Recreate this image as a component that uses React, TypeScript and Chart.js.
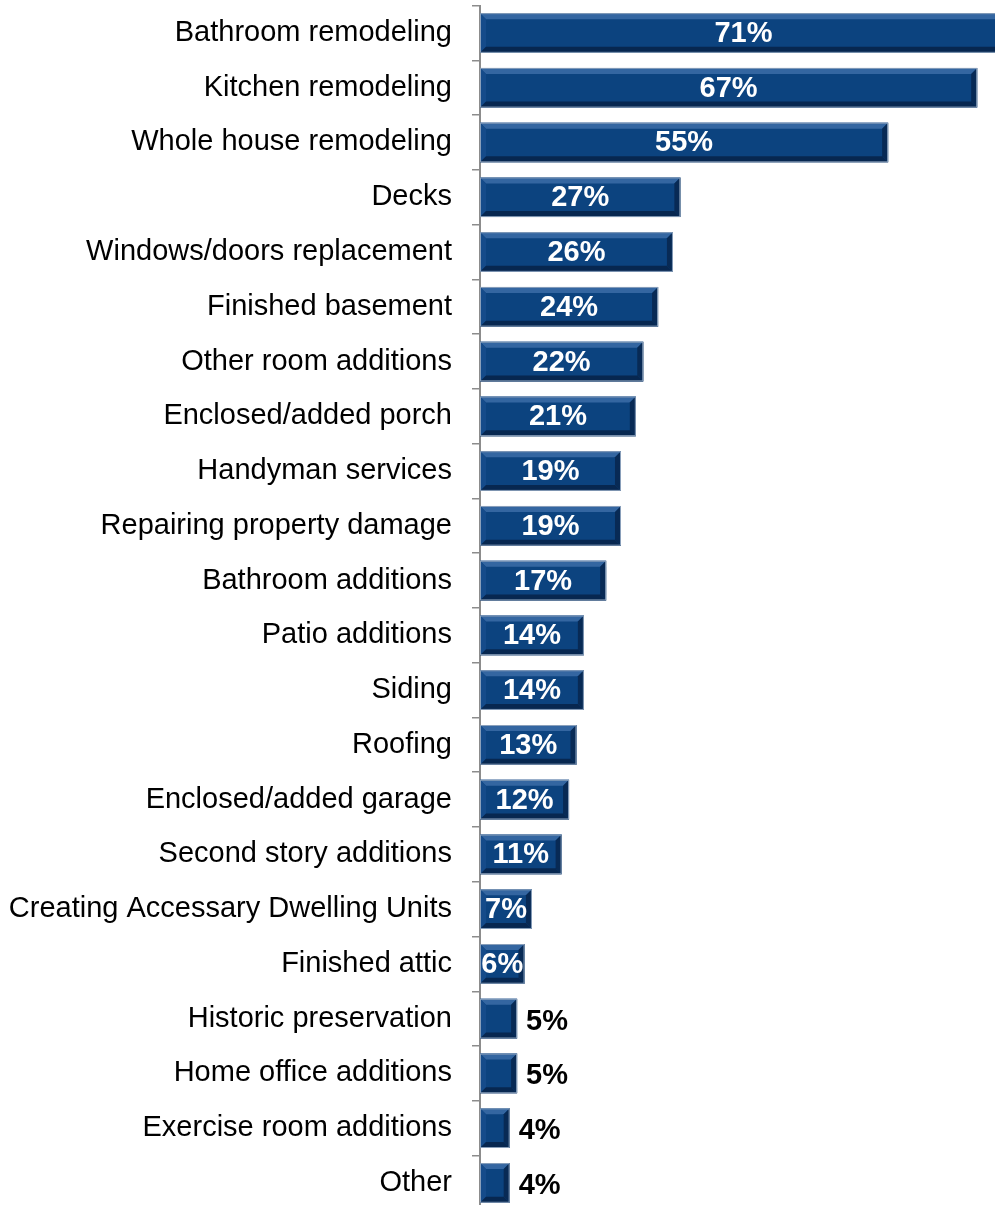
import React, { useEffect, useRef } from "react";
import { Chart, registerables } from "chart.js";

Chart.register(...registerables);

const categories: string[] = [
  "Bathroom remodeling",
  "Kitchen remodeling",
  "Whole house remodeling",
  "Decks",
  "Windows/doors replacement",
  "Finished basement",
  "Other room additions",
  "Enclosed/added porch",
  "Handyman services",
  "Repairing property damage",
  "Bathroom additions",
  "Patio additions",
  "Siding",
  "Roofing",
  "Enclosed/added garage",
  "Second story additions",
  "Creating Accessary Dwelling Units",
  "Finished attic",
  "Historic preservation",
  "Home office additions",
  "Exercise room additions",
  "Other",
];

const shares: number[] = [71, 67, 55, 27, 26, 24, 22, 21, 19, 19, 17, 14, 14, 13, 12, 11, 7, 6, 5, 5, 4, 4];

const FONT = "'Liberation Sans', Arial, Helvetica, sans-serif";

const bevelPlugin = {
  id: "bevelBars",
  afterDatasetsDraw(chart: any) {
    const ctx = chart.ctx;
    const meta = chart.getDatasetMeta(0);
    ctx.save();
    meta.data.forEach((bar: any) => {
      const { x, y, base, height } = bar.getProps(["x", "y", "base", "height"], true);
      const left = Math.min(base, x);
      const right = Math.max(base, x);
      const top = y - height / 2;
      const bottom = y + height / 2;
      const b = 6;
      ctx.fillStyle = "#3466a1";
      ctx.beginPath();
      ctx.moveTo(left, top);
      ctx.lineTo(right, top);
      ctx.lineTo(right - b, top + b);
      ctx.lineTo(left + b, top + b);
      ctx.closePath();
      ctx.fill();
      ctx.fillStyle = "#154b8a";
      ctx.beginPath();
      ctx.moveTo(left, top);
      ctx.lineTo(left + b, top + b);
      ctx.lineTo(left + b, bottom - b);
      ctx.lineTo(left, bottom);
      ctx.closePath();
      ctx.fill();
      ctx.fillStyle = "#082a55";
      ctx.beginPath();
      ctx.moveTo(right, top);
      ctx.lineTo(right, bottom);
      ctx.lineTo(right - b, bottom - b);
      ctx.lineTo(right - b, top + b);
      ctx.closePath();
      ctx.fill();
      ctx.fillStyle = "#072750";
      ctx.beginPath();
      ctx.moveTo(left, bottom);
      ctx.lineTo(right, bottom);
      ctx.lineTo(right - b, bottom - b);
      ctx.lineTo(left + b, bottom - b);
      ctx.closePath();
      ctx.fill();
      ctx.strokeStyle = "#8aa0bb";
      ctx.lineWidth = 1;
      ctx.strokeRect(left + 0.5, top + 0.5, right - left - 1, bottom - top - 1);
    });
    ctx.restore();
  },
};

const labelPlugin = {
  id: "valueLabels",
  afterDatasetsDraw(chart: any) {
    const ctx = chart.ctx;
    const meta = chart.getDatasetMeta(0);
    const data = chart.data.datasets[0].data as number[];
    ctx.save();
    ctx.font = `bold 29px ${FONT}`;
    ctx.textBaseline = "middle";
    meta.data.forEach((bar: any, i: number) => {
      const { x, y, base } = bar.getProps(["x", "y", "base"], true);
      const v = data[i];
      const text = `${v}%`;
      if (v >= 6) {
        ctx.fillStyle = "#ffffff";
        ctx.textAlign = "center";
        ctx.fillText(text, (x + base) / 2, y + 1);
      } else {
        ctx.fillStyle = "#000000";
        ctx.textAlign = "left";
        ctx.fillText(text, x + 9, y + 3);
      }
    });
    ctx.restore();
  },
};

export default function App() {
  const canvasRef = useRef<HTMLCanvasElement | null>(null);

  useEffect(() => {
    const canvas = canvasRef.current;
    if (!canvas) return;
    const chart = new Chart(canvas, {
      type: "bar",
      data: {
        labels: categories,
        datasets: [
          {
            data: shares,
            backgroundColor: "#0c437f",
            borderWidth: 0,
            categoryPercentage: 1,
            barPercentage: 0.725,
          },
        ],
      },
      options: {
        indexAxis: "y",
        responsive: false,
        animation: false,
        devicePixelRatio: 1,
        layout: { padding: { top: 5.6, bottom: 1.7, left: 0, right: 0 } },
        plugins: {
          legend: { display: false },
          tooltip: { enabled: false },
          title: { display: false },
        },
        scales: {
          x: {
            display: false,
            min: 0,
            max: 69.4,
          },
          y: {
            afterFit(scale: any) {
              scale.width = 480;
              scale.paddingTop = 0;
              scale.paddingBottom = 0;
            },
            grid: {
              display: true,
              drawOnChartArea: false,
              drawTicks: true,
              tickLength: 8,
              color: "#8c8c8c",
              lineWidth: 1.5,
              offset: true,
            },
            border: { display: true, color: "#8c8c8c", width: 2 },
            ticks: {
              color: "#000000",
              padding: 20,
              font: { family: FONT, size: 29 },
              autoSkip: false,
            },
          },
        },
      },
      plugins: [bevelPlugin, labelPlugin],
    });
    return () => chart.destroy();
  }, []);

  return (
    <div
      style={{
        position: "fixed",
        left: 0,
        top: 0,
        width: 995,
        height: 1205,
        overflow: "hidden",
        background: "#ffffff",
      }}
    >
      <canvas ref={canvasRef} width={995} height={1212} style={{ display: "block", width: 995, height: 1212 }} />
    </div>
  );
}
